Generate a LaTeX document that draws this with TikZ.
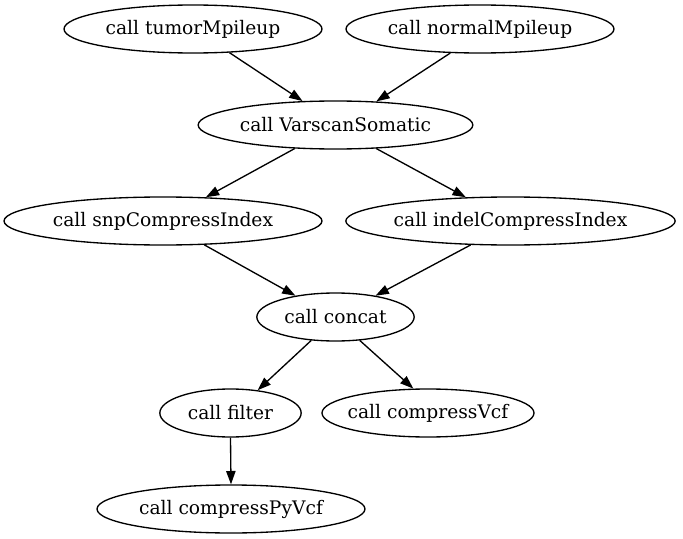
\documentclass[tikz,border=0pt]{standalone}
\usepackage{fontspec}
\setmainfont{DejaVu Serif}
\usetikzlibrary{shapes.geometric,arrows.meta}
\begin{document}
\begin{tikzpicture}[x=0.75pt,y=-0.75pt,
  task/.style={ellipse,draw=black,line width=1pt,inner sep=0pt,minimum height=36pt,font=\fontsize{14pt}{16pt}\selectfont},
  edge/.style={line width=1pt,-{Triangle[length=10pt,width=7pt]}}]
\useasboundingbox (0,0) rectangle (683,539);
\node[task,minimum width=193.5pt] (tumor) at (193,29) {call tumorMpileup};
\node[task,minimum width=201pt] (normal) at (480,29) {call normalMpileup};
\node[task,minimum width=206pt] (varscan) at (335.5,125) {call VarscanSomatic};
\node[task,minimum width=238.5pt] (snp) at (163,221) {call snpCompressIndex};
\node[task,minimum width=247pt,inner xsep=-2pt] (indel) at (510.5,221) {call indelCompressIndex};
\node[task,minimum width=118pt] (concat) at (335.5,317) {call concat};
\node[task,minimum width=106pt] (filter) at (230.5,413) {call filter};
\node[task,minimum width=159pt,inner xsep=-6pt] (cvcf) at (428,413) {call compressVcf};
\node[task,minimum width=201pt] (cpyvcf) at (231,509) {call compressPyVcf};
\draw[edge] (tumor.-33) -- (varscan.144);
\draw[edge] (normal.-141) -- (varscan.30);
\draw[edge] (varscan.-150) -- (snp.29);
\draw[edge] (varscan.-30) -- (indel.152);
\draw[edge] (snp.-30) -- (concat.152);
\draw[edge] (indel.-149) -- (concat.28);
\draw[edge] (concat.-136) -- (filter.40);
\draw[edge] (concat.-44) -- (cvcf.121);
\draw[edge] (filter.south) -- (cpyvcf.north);
\end{tikzpicture}
\end{document}
